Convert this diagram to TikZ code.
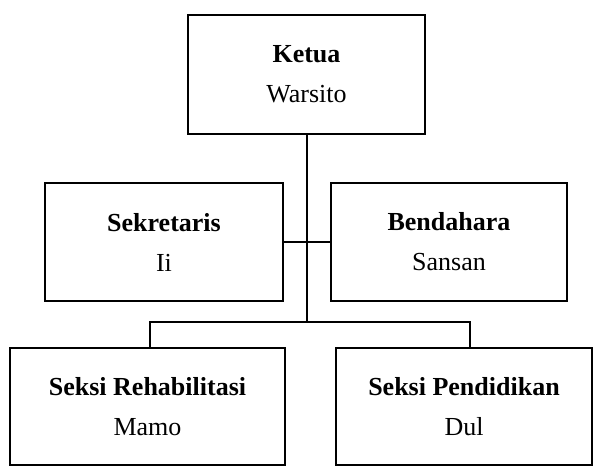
\documentclass[tikz,border=0pt]{standalone}
\usepackage{fontspec}
\setmainfont{Liberation Serif}
\usetikzlibrary{positioning}
\begin{document}
\begin{tikzpicture}[x=1pt, y=-1pt]
				\tikzstyle{orgnode}=[draw=black, line width=2pt, fill=none, text=black, align=center, inner sep=0pt, font=\fontsize{26}{40}\selectfont]
				\tikzstyle{orgline}=[line width=2pt, black]
				
				\useasboundingbox (0,0) rectangle (594,468);
				
				\node (ketua) at (306.5,74.5) [orgnode, minimum width=237pt, minimum height=119pt] {\textbf{Ketua}\\Warsito};
				
				\node (sekretaris) at (164,242) [orgnode, minimum width=238pt, minimum height=118pt] {\textbf{Sekretaris}\\Ii};
				\node (bendahara) at (449,242) [orgnode, minimum width=236pt, minimum height=118pt] {\textbf{Bendahara}\\Sansan};
				
				\node (rehab) at (147.5,406.5) [orgnode, minimum width=275pt, minimum height=117pt] {\textbf{Seksi Rehabilitasi}\\Mamo};
				\node (didik) at (464,406.5) [orgnode, minimum width=256pt, minimum height=117pt] {\textbf{Seksi Pendidikan}\\Dul};
				
				\coordinate (split) at (306.5,322);
				
				\draw [orgline] (ketua.south) -- (split);
				\draw [orgline] (sekretaris.east) -- (bendahara.west);
				\draw [orgline] (split) -| ([xshift=2.5pt]rehab.north);
				\draw [orgline] (split) -| ([xshift=6pt]didik.north);
				\end{tikzpicture}
\end{document}
